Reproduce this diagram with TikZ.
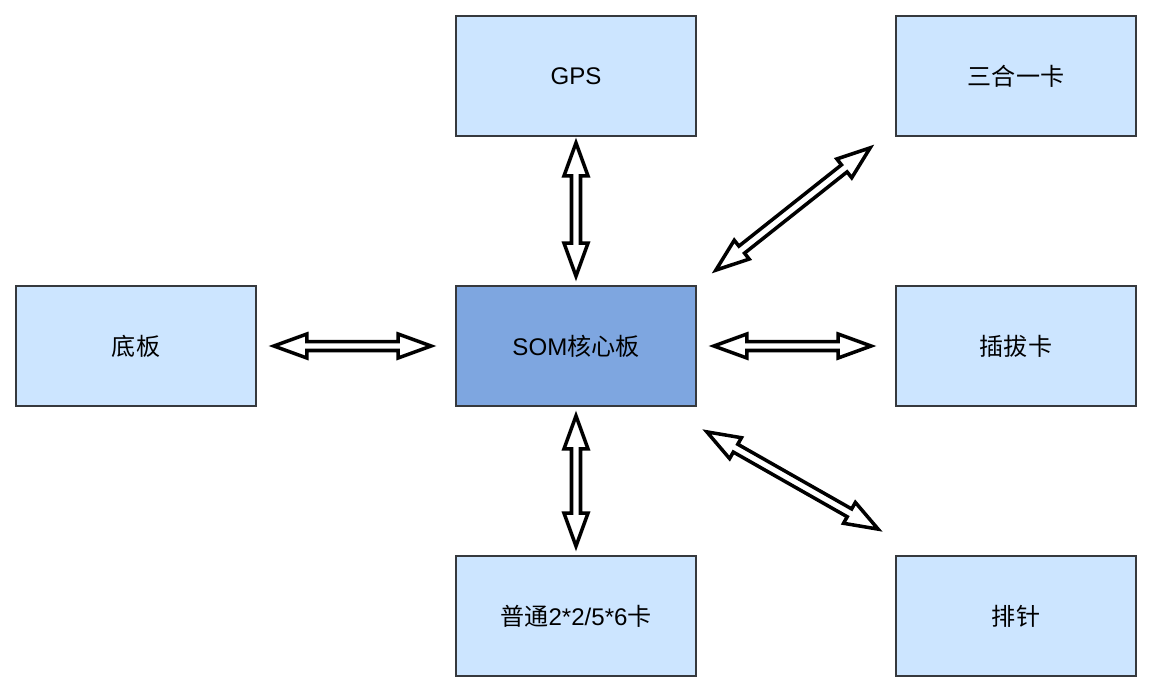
\documentclass[tikz,border=0pt]{standalone}
\usepackage{fontspec}
\setmainfont{Liberation Sans}
\newfontfamily\cjk{Noto Sans CJK SC}
\usetikzlibrary{calc}

\definecolor{boxfill}{HTML}{CCE5FF}
\definecolor{somfill}{HTML}{7EA6E0}
\definecolor{boxline}{HTML}{36393D}

\newcommand{\flexarrow}[2]{%
    \coordinate (fa-h1) at ($(#1)!0.66cm!(#2)$);
    \coordinate (fa-h2) at ($(#2)!0.66cm!(#1)$);
    \draw[arrowline] (#1)
        -- ($(fa-h1)!0.24cm!90:(#2)$) -- ($(fa-h1)!0.09cm!90:(#2)$)
        -- ($(fa-h2)!0.09cm!-90:(#1)$) -- ($(fa-h2)!0.24cm!-90:(#1)$)
        -- (#2)
        -- ($(fa-h2)!0.24cm!90:(#1)$) -- ($(fa-h2)!0.09cm!90:(#1)$)
        -- ($(fa-h1)!0.09cm!-90:(#2)$) -- ($(fa-h1)!0.24cm!-90:(#2)$)
        -- cycle;
}

\begin{document}
\begin{tikzpicture}[x=0.02cm, y=-0.02cm,
    box/.style={draw=boxline, fill=boxfill, line width=1pt,
        minimum width=4.8cm, minimum height=2.4cm, inner sep=0pt,
        font=\fontsize{13.7}{16}\selectfont},
    corebox/.style={box, fill=somfill},
    arrowline/.style={draw=black, fill=white, line width=2pt}]

    \useasboundingbox (0,0) rectangle (1154,694);

    \node[box] (gps) at (576,76) {GPS};
    \node[box] (card3) at (1016,76) {\cjk 三合一卡};
    \node[box] (base) at (136,346) {\cjk 底板};
    \node[corebox] (som) at (576,346) {SOM{\cjk 核心板}};
    \node[box] (plug) at (1016,346) {\cjk 插拔卡};
    \node[box] (normal) at (576,616) {{\cjk 普通}2*2/5*6{\cjk 卡}};
    \node[box] (pin) at (1016,616) {\cjk 排针};

    \coordinate (gps-s) at ($(gps.south)+(0,6)$);
    \coordinate (som-n) at ($(som.north)+(0,-9)$);
    \coordinate (base-e) at ($(base.east)+(17,0)$);
    \coordinate (som-w) at ($(som.west)+(-24,0)$);
    \coordinate (som-e) at ($(som.east)+(17,0)$);
    \coordinate (plug-w) at ($(plug.west)+(-24,0)$);
    \coordinate (som-s) at ($(som.south)+(0,9)$);
    \coordinate (normal-n) at ($(normal.north)+(0,-9)$);
    \coordinate (som-ne) at ($(som.north east)+(19,-15)$);
    \coordinate (card3-sw) at ($(card3.south west)+(-25,11)$);
    \coordinate (som-se) at ($(som.south east)+(10,25)$);
    \coordinate (pin-nw) at ($(pin.north west)+(-17,-26)$);

    \flexarrow{gps-s}{som-n}
    \flexarrow{base-e}{som-w}
    \flexarrow{som-e}{plug-w}
    \flexarrow{som-s}{normal-n}
    \flexarrow{som-ne}{card3-sw}
    \flexarrow{som-se}{pin-nw}

\end{tikzpicture}
\end{document}
